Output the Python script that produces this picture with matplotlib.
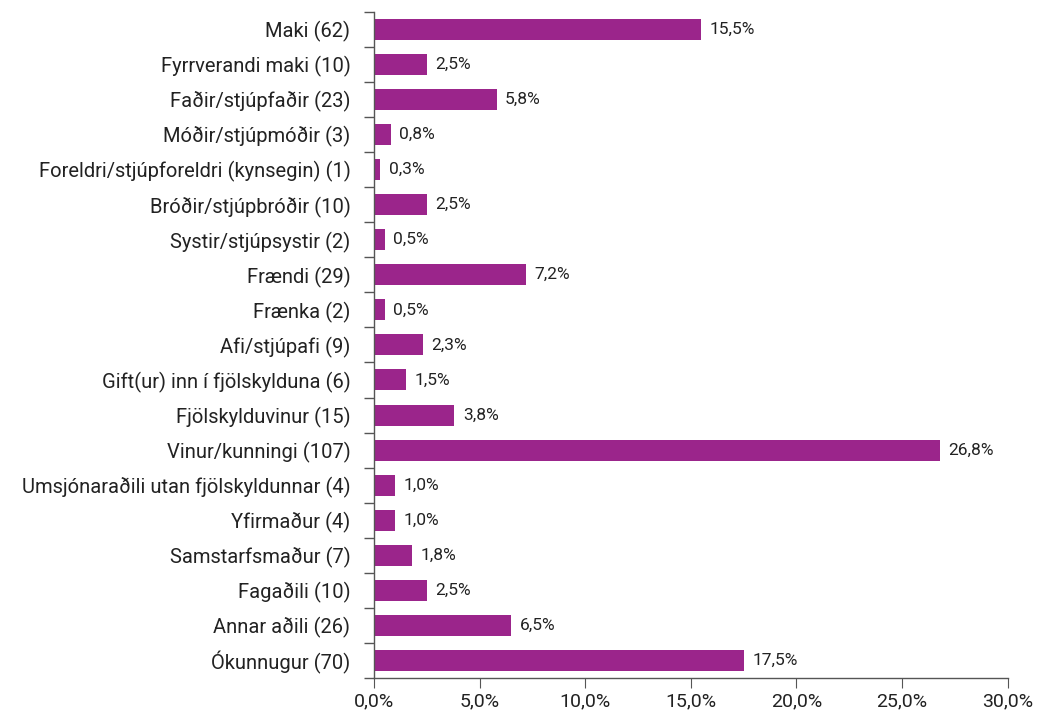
import matplotlib
matplotlib.use("Agg")
from matplotlib import pyplot as plt
from matplotlib.ticker import FuncFormatter, FixedLocator
import numpy as np

categories = [
    "Maki (62)",
    "Fyrrverandi maki (10)",
    "Faðir/stjúpfaðir (23)",
    "Móðir/stjúpmóðir (3)",
    "Foreldri/stjúpforeldri (kynsegin) (1)",
    "Bróðir/stjúpbróðir (10)",
    "Systir/stjúpsystir (2)",
    "Frændi (29)",
    "Frænka (2)",
    "Afi/stjúpafi (9)",
    "Gift(ur) inn í fjölskylduna (6)",
    "Fjölskylduvinur (15)",
    "Vinur/kunningi (107)",
    "Umsjónaraðili utan fjölskyldunnar (4)",
    "Yfirmaður (4)",
    "Samstarfsmaður (7)",
    "Fagaðili (10)",
    "Annar aðili (26)",
    "Ókunnugur (70)",
]
percent = [15.5, 2.5, 5.8, 0.8, 0.3, 2.5, 0.5, 7.2, 0.5, 2.3,
           1.5, 3.8, 26.8, 1.0, 1.0, 1.8, 2.5, 6.5, 17.5]

plt.rcParams['font.family'] = ['Roboto', 'DejaVu Sans']

fig = plt.figure(figsize=(10.42, 7.11), dpi=100)
ax = fig.add_axes([0.359, 0.0464, 0.608, 0.937])

y = np.arange(len(categories))
ax.barh(y, percent, height=0.6, color='#9b258b')

for yi, v in zip(y, percent):
    ax.text(v + 0.4, yi, f"{v:.1f}".replace('.', ',') + '%',
            va='center', ha='left', fontsize=12.5, color='#222222')

ax.set_xlim(0, 30)
ax.set_ylim(len(categories) - 0.5, -0.5)
ax.set_xticks(np.arange(0, 31, 5))
ax.xaxis.set_major_formatter(FuncFormatter(lambda v, p: f"{v:.1f}".replace('.', ',') + '%'))

# category labels centred on bars, tick marks on band edges
ax.set_yticks(y)
ax.set_yticklabels(categories, fontsize=14.5, color='#222222')
ax.tick_params(axis='y', which='major', length=0, pad=17)
ax.yaxis.set_minor_locator(FixedLocator(np.arange(-0.5, len(categories), 1)))
ax.tick_params(axis='y', which='minor', length=7, color='#555555', width=1)
ax.tick_params(axis='x', length=7, color='#555555', labelsize=14, labelcolor='#222222', pad=3)

for s in ['top', 'right']:
    ax.spines[s].set_visible(False)
for s in ['left', 'bottom']:
    ax.spines[s].set_color('#555555')
    ax.spines[s].set_linewidth(1)

fig.savefig('out.png', dpi=100)
